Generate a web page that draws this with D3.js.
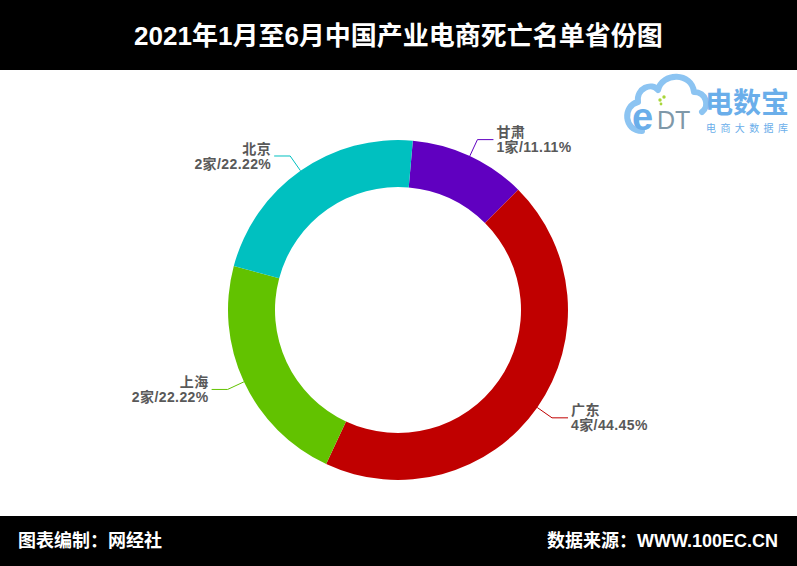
<!DOCTYPE html>
<html>
<head>
<meta charset="utf-8">
<script src="https://cdn.jsdelivr.net/npm/d3@7"></script>
<style>
  html, body { margin: 0; padding: 0; background: #fff; }
  svg { display: block; }
  text { font-family: "Liberation Sans", Arial, "Noto Sans CJK SC", sans-serif; }
</style>
</head>
<body>
<svg id="chart" width="797" height="566"></svg>
<script>
// ---- data ----
const title = "2021年1月至6月中国产业电商死亡名单省份图";
const provinces = ["甘肃", "广东", "上海", "北京"];
const counts = [1, 4, 2, 2];
const percentLabels = ["11.11%", "44.45%", "22.22%", "22.22%"];
const colors = ["#6000c0", "#c00000", "#62c200", "#00c0c0"];
const footerLeft = "图表编制：网经社";
const footerRight = "数据来源：WWW.100EC.CN";

const W = 797, H = 566;
const svg = d3.select("#chart");

// background bars
svg.append("rect").attr("x", 0).attr("y", 0).attr("width", W).attr("height", 70).attr("fill", "#000");
svg.append("rect").attr("x", 0).attr("y", 516).attr("width", W).attr("height", 50).attr("fill", "#000");

svg.append("text").attr("x", W / 2).attr("y", 36).attr("text-anchor", "middle")
  .attr("dominant-baseline", "central").attr("fill", "#fff")
  .attr("font-size", 26).attr("font-weight", "bold").text(title);

svg.append("text").attr("x", 18).attr("y", 541).attr("dominant-baseline", "central")
  .attr("fill", "#fff").attr("font-size", 18).attr("font-weight", "bold").text(footerLeft);
svg.append("text").attr("x", 778).attr("y", 541).attr("text-anchor", "end").attr("dominant-baseline", "central")
  .attr("fill", "#fff").attr("font-size", 18).attr("font-weight", "bold").text(footerRight);

// logo (approximate)
const logo = svg.append("g");
const cloud = "M642,131 C624,131 622,106 638,102 C636,88 652,82 658,90 C662,72 692,72 694,92 C706,92 710,106 702,112";
logo.append("path").attr("d", cloud).attr("fill", "none").attr("stroke", "#8cc4f2").attr("stroke-width", 6)
  .attr("stroke-linecap", "round").attr("stroke-linejoin", "round");
logo.append("text").attr("x", 632).attr("y", 130).attr("fill", "#6aaeea").attr("font-size", 38)
  .attr("font-weight", "bold").attr("font-family", "DejaVu Sans").text("e");
logo.append("text").attr("x", 657).attr("y", 129).attr("fill", "#7f98a8").attr("font-size", 25)
  .attr("font-family", "DejaVu Serif").text("DT");
logo.append("circle").attr("cx", 660).attr("cy", 100).attr("r", 1.7).attr("fill", "#a9d63a");
logo.append("circle").attr("cx", 664).attr("cy", 97).attr("r", 1.7).attr("fill", "#a9d63a");
logo.append("circle").attr("cx", 661).attr("cy", 104).attr("r", 1.4).attr("fill", "#a9d63a");
logo.append("text").attr("x", 705).attr("y", 103).attr("dominant-baseline", "central")
  .attr("fill", "#6aaeea").attr("font-size", 28).attr("font-weight", "bold")
  .attr("font-family", "Noto Sans CJK SC").text("电数宝");
logo.append("text").attr("x", 706).attr("y", 128).attr("dominant-baseline", "central")
  .attr("fill", "#6aaeea").attr("font-size", 10).attr("letter-spacing", 4.4)
  .attr("font-family", "Noto Sans CJK SC").text("电商大数据库");

// ---- donut ----
const cx = 398, cy = 310, rOuter = 170, rInner = 123;
const start = 5 * Math.PI / 180;
const pie = d3.pie().sort(null).value(d => d).startAngle(start).endAngle(start + 2 * Math.PI);
const arcs = pie(counts);
const arc = d3.arc().innerRadius(rInner).outerRadius(rOuter);

const g = svg.append("g").attr("transform", `translate(${cx},${cy})`);
g.selectAll("path.slice").data(arcs).join("path").attr("class", "slice")
  .attr("d", arc).attr("fill", (d, i) => colors[i]);

// labels
const lineLen1 = 18, lineLen2 = 16, gap = 3;
arcs.forEach((d, i) => {
  const a = (d.startAngle + d.endAngle) / 2;
  const p0 = [Math.sin(a) * rOuter, -Math.cos(a) * rOuter];
  const p1 = [Math.sin(a) * (rOuter + lineLen1), -Math.cos(a) * (rOuter + lineLen1)];
  const right = Math.sin(a) >= 0;
  const p2 = [p1[0] + (right ? lineLen2 : -lineLen2), p1[1]];
  g.append("polyline").attr("points", [p0, p1, p2].map(p => p.join(",")).join(" "))
    .attr("fill", "none").attr("stroke", colors[i]).attr("stroke-width", 1);
  const tx = p2[0] + (right ? gap : -gap);
  const t = g.append("text").attr("x", tx).attr("y", p2[1])
    .attr("text-anchor", right ? "start" : "end")
    .attr("fill", "#595959").attr("font-size", 14).attr("font-weight", "bold")
    .attr("letter-spacing", 0.4);
  t.append("tspan").attr("x", tx).attr("y", p2[1] - 7.5).attr("dominant-baseline", "central").text(provinces[i]);
  t.append("tspan").attr("x", tx).attr("y", p2[1] + 7.5).attr("dominant-baseline", "central")
    .text(counts[i] + "家/" + percentLabels[i]);
});
</script>
</body>
</html>
